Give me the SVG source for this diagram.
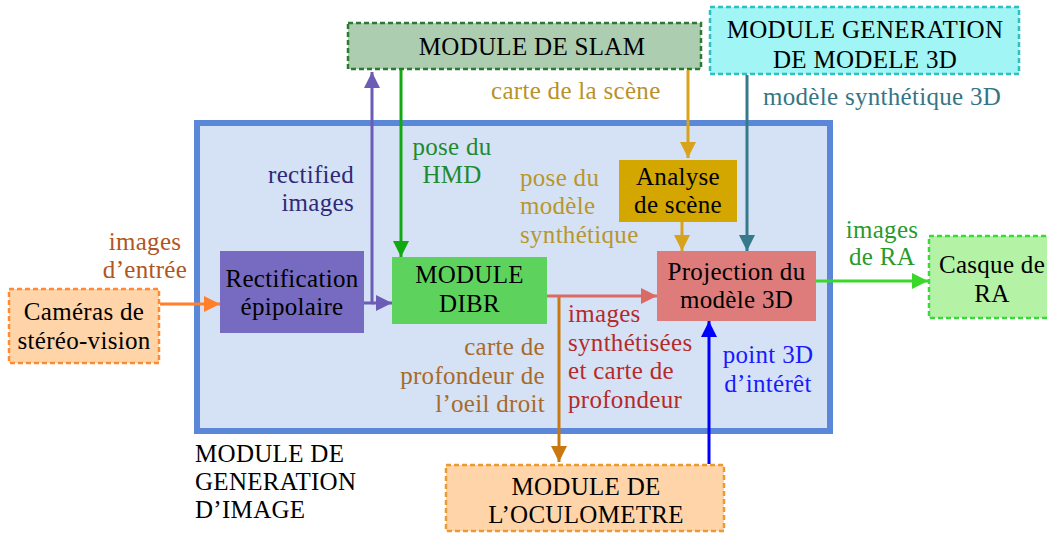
<svg xmlns="http://www.w3.org/2000/svg" width="1047" height="534" viewBox="0 0 1047 534" font-family="'Liberation Serif', 'DejaVu Serif', serif">
<style>
text{font-family:'Liberation Serif','DejaVu Serif',serif;font-size:25px;letter-spacing:0.3px}
.m{text-anchor:middle}
.e{text-anchor:end}
.dash{stroke-width:2.5;stroke-dasharray:5 3}
.ln{fill:none;stroke-width:3}
</style>
<defs>
<marker id="aO" markerUnits="userSpaceOnUse" viewBox="0 0 16 16" markerWidth="16" markerHeight="16" refX="16" refY="8" orient="auto"><path d="M0,0 L16,8 L0,16 z" fill="#ff7f2a"/></marker>
<marker id="aP" markerUnits="userSpaceOnUse" viewBox="0 0 16 16" markerWidth="16" markerHeight="16" refX="16" refY="8" orient="auto"><path d="M0,0 L16,8 L0,16 z" fill="#6b5cb5"/></marker>
<marker id="aG" markerUnits="userSpaceOnUse" viewBox="0 0 16 16" markerWidth="16" markerHeight="16" refX="16" refY="8" orient="auto"><path d="M0,0 L16,8 L0,16 z" fill="#12a812"/></marker>
<marker id="aY" markerUnits="userSpaceOnUse" viewBox="0 0 16 16" markerWidth="16" markerHeight="16" refX="16" refY="8" orient="auto"><path d="M0,0 L16,8 L0,16 z" fill="#d8a31a"/></marker>
<marker id="aT" markerUnits="userSpaceOnUse" viewBox="0 0 16 16" markerWidth="16" markerHeight="16" refX="16" refY="8" orient="auto"><path d="M0,0 L16,8 L0,16 z" fill="#357a8a"/></marker>
<marker id="aR" markerUnits="userSpaceOnUse" viewBox="0 0 16 16" markerWidth="16" markerHeight="16" refX="16" refY="8" orient="auto"><path d="M0,0 L16,8 L0,16 z" fill="#dc6a64"/></marker>
<marker id="aB" markerUnits="userSpaceOnUse" viewBox="0 0 16 16" markerWidth="16" markerHeight="16" refX="16" refY="8" orient="auto"><path d="M0,0 L16,8 L0,16 z" fill="#c8780e"/></marker>
<marker id="aU" markerUnits="userSpaceOnUse" viewBox="0 0 16 16" markerWidth="16" markerHeight="16" refX="16" refY="8" orient="auto"><path d="M0,0 L16,8 L0,16 z" fill="#0000ff"/></marker>
<marker id="aL" markerUnits="userSpaceOnUse" viewBox="0 0 16 16" markerWidth="16" markerHeight="16" refX="16" refY="8" orient="auto"><path d="M0,0 L16,8 L0,16 z" fill="#3ad82a"/></marker>
</defs>

<g id="module-generation-image">
<rect x="197" y="123" width="633" height="308" fill="#d5e2f5" stroke="#5a87d8" stroke-width="6"/>
<text x="195" y="462">MODULE DE</text>
<text x="195" y="490">GENERATION</text>
<text x="195" y="518">D’IMAGE</text>
</g>

<g id="slam">
<rect x="348" y="23" width="353" height="46" fill="#adcdb0" stroke="#2a7a32" class="dash"/>
<text x="532" y="55" class="m">MODULE DE SLAM</text>
</g>

<g id="generation-3d">
<rect x="710" y="7" width="309" height="67" fill="#a2f5f5" stroke="#2ec0c0" class="dash"/>
<text x="865" y="38" class="m">MODULE GENERATION</text>
<text x="865" y="68" class="m">DE MODELE 3D</text>
</g>

<g id="casque">
<rect x="929" y="236" width="130" height="82" fill="#b4f2a6" stroke="#3ed83e" class="dash"/>
<text x="992" y="273" class="m">Casque de</text>
<text x="992" y="302" class="m">RA</text>
</g>

<g id="cameras">
<rect x="9" y="289" width="150" height="74" fill="#ffd4a8" stroke="#ff8a30" class="dash"/>
<text x="84" y="320" class="m">Caméras de</text>
<text x="84" y="349" class="m">stéréo-vision</text>
</g>

<g id="oculometre">
<rect x="446" y="465" width="278" height="66" fill="#ffd4a8" stroke="#eb9a30" class="dash"/>
<text x="586" y="495" class="m">MODULE DE</text>
<text x="586" y="523" class="m">L’OCULOMETRE</text>
</g>

<g id="rectification">
<rect x="220" y="251" width="144" height="82" fill="#766bc0"/>
<text x="292" y="287" class="m">Rectification</text>
<text x="292" y="315" class="m">épipolaire</text>
</g>

<g id="dibr">
<rect x="392" y="257" width="155" height="67" fill="#5dd35e"/>
<text x="469.5" y="283" class="m">MODULE</text>
<text x="469.5" y="312" class="m">DIBR</text>
</g>

<g id="projection">
<rect x="657" y="251" width="159" height="70" fill="#de7c7c"/>
<text x="736.5" y="280" class="m">Projection du</text>
<text x="736.5" y="308" class="m">modèle 3D</text>
</g>

<g id="analyse">
<rect x="619" y="160" width="118" height="62" fill="#d4a600"/>
<text x="678" y="185" class="m">Analyse</text>
<text x="678" y="213" class="m">de scène</text>
</g>

<g id="connectors">
<path d="M160,304 H220" class="ln" stroke="#ff7f2a" marker-end="url(#aO)"/>
<path d="M364,303 H372 V72" class="ln" stroke="#6b5cb5" marker-end="url(#aP)"/>
<path d="M372,303 H392" class="ln" stroke="#6b5cb5" marker-end="url(#aP)"/>
<path d="M401,70 V257" class="ln" stroke="#12a812" marker-end="url(#aG)"/>
<path d="M688,70 V158" class="ln" stroke="#d8a31a" marker-end="url(#aY)"/>
<path d="M682,222 V251" class="ln" stroke="#d8a31a" marker-end="url(#aY)"/>
<path d="M747,75 V251" class="ln" stroke="#357a8a" marker-end="url(#aT)"/>
<path d="M559,296 V462" class="ln" stroke="#c8780e" marker-end="url(#aB)"/>
<path d="M547,296 H657" class="ln" stroke="#dc6a64" marker-end="url(#aR)"/>
<path d="M709,464 V321" class="ln" stroke="#0000ff" stroke-width="3.5" marker-end="url(#aU)"/>
<path d="M816,281 H928" class="ln" stroke="#3ad82a" marker-end="url(#aL)"/>

<text x="145" y="250" class="m" fill="#b0561e">images</text>
<text x="145" y="278" class="m" fill="#b0561e">d’entrée</text>
<text x="354" y="183" class="e" fill="#2e2a78">rectified</text>
<text x="354" y="211" class="e" fill="#2e2a78">images</text>
<text x="452" y="155" class="m" fill="#1f8a2f">pose du</text>
<text x="452" y="183" class="m" fill="#1f8a2f">HMD</text>
<text x="491" y="99" fill="#b8922a">carte de la scène</text>
<text x="520" y="186" fill="#b8962e">pose du</text>
<text x="520" y="214" fill="#b8962e">modèle</text>
<text x="520" y="243" fill="#b8962e">synthétique</text>
<text x="763" y="105" fill="#357585">modèle synthétique 3D</text>
<text x="882" y="238" class="m" fill="#2a9a2a">images</text>
<text x="882" y="265" class="m" fill="#2a9a2a">de RA</text>
<text x="545" y="355" class="e" fill="#a86a2a">carte de</text>
<text x="545" y="383.5" class="e" fill="#a86a2a">profondeur de</text>
<text x="545" y="412" class="e" fill="#a86a2a">l’oeil droit</text>
<text x="568" y="322" fill="#b52a2a">images</text>
<text x="568" y="350.5" fill="#b52a2a">synthétisées</text>
<text x="568" y="379" fill="#b52a2a">et carte de</text>
<text x="568" y="408" fill="#b52a2a">profondeur</text>
<text x="768" y="363" class="m" fill="#1a1aff">point 3D</text>
<text x="768" y="392" class="m" fill="#1a1aff">d’intérêt</text>
</g>
</svg>
